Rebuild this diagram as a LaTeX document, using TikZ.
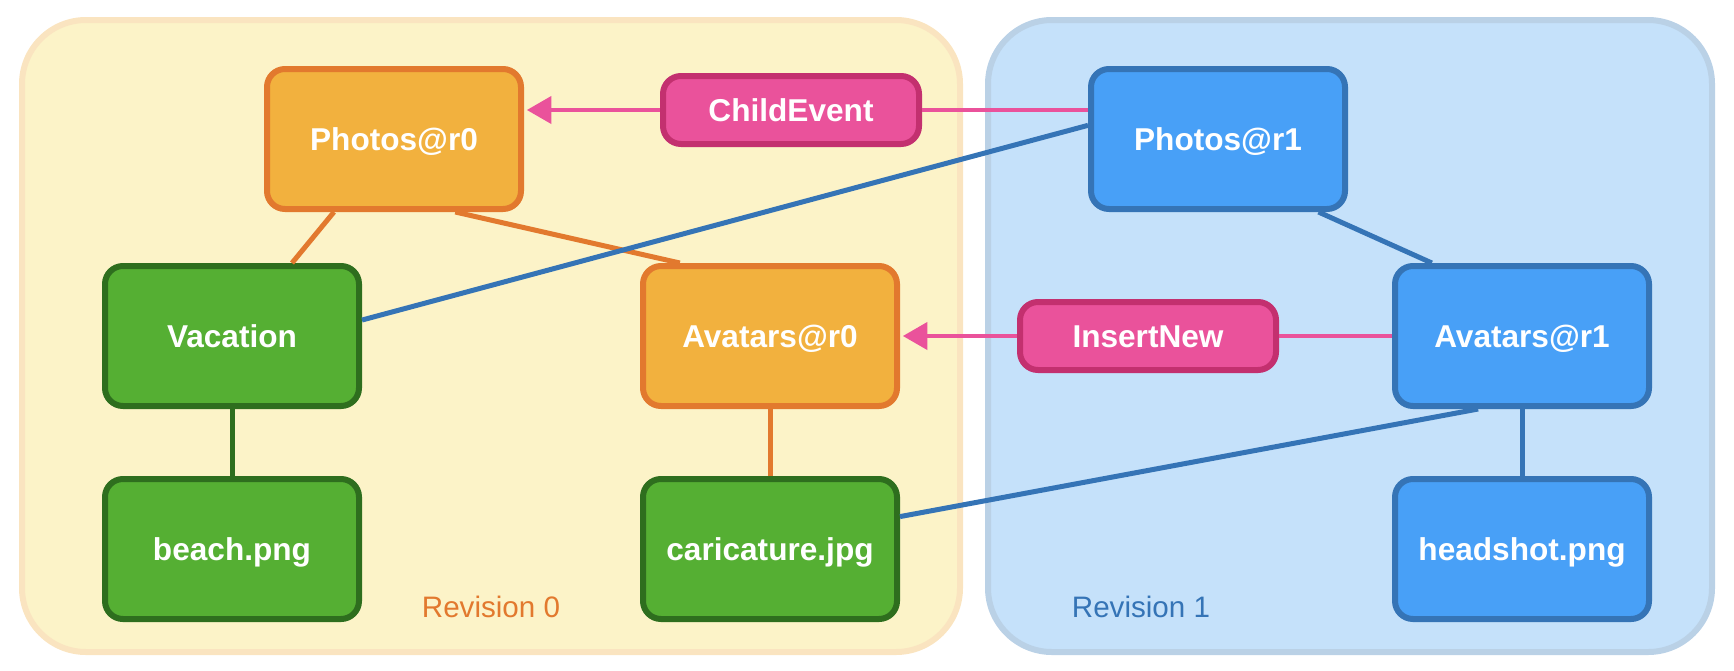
\documentclass[tikz,border=0pt]{standalone}
\usepackage{fontspec}
\setmainfont{Liberation Sans}
\usetikzlibrary{arrows}

\definecolor{revzero}{HTML}{FCF3C8}
\definecolor{revzeroline}{HTML}{FAE4C0}
\definecolor{revone}{HTML}{C5E1FA}
\definecolor{revoneline}{HTML}{BAD1E6}
\definecolor{orangefill}{HTML}{F2B13E}
\definecolor{orangeline}{HTML}{E2792E}
\definecolor{greenfill}{HTML}{55AF33}
\definecolor{greenline}{HTML}{2E6E1E}
\definecolor{bluefill}{HTML}{48A0F7}
\definecolor{blueline}{HTML}{3574B6}
\definecolor{pinkfill}{HTML}{EA529B}
\definecolor{pinkline}{HTML}{C3306F}

\begin{document}
\begin{tikzpicture}[x=0.5pt,y=-0.5pt,>=triangle 60,node distance=106.5pt,
    tree node/.style={rectangle,rounded corners=9pt,line width=3pt,minimum width=127pt,
      minimum height=70pt,text height=11pt,text depth=0pt,text=white,
      font=\fontsize{15.8}{18}\selectfont\bfseries},
    old node/.style={tree node,fill=orangefill,draw=orangeline},
    file node/.style={tree node,fill=greenfill,draw=greenline},
    new node/.style={tree node,fill=bluefill,draw=blueline},
    event node/.style={tree node,fill=pinkfill,draw=pinkline,minimum width=128pt,minimum height=34pt},
    rev box/.style={rounded corners=32pt,line width=3pt},
    rev label/.style={font=\fontsize{14.8}{17}\selectfont}]

  \useasboundingbox (0,0) rectangle (1734,670);

  % the two revisions
  \draw[rev box,fill=revzero,draw=revzeroline] (22,20) rectangle (960,652);
  \draw[rev box,fill=revone,draw=revoneline] (988,20) rectangle (1712,652);
  \node[rev label,text=orangeline] (r0) at (491,607) {Revision 0};
  \node[rev label,text=blueline] (r1) at (1141,607) {Revision 1};

  \node[old node] (p0) at (394,139) {Photos@r0};
  \node[file node] (vac) at (232,336) {Vacation};
  \node[file node] (beach) [below of=vac] {beach.png};
  \node[old node] (a0) at (770,336) {Avatars@r0};
  \node[file node] (car) [below of=a0] {caricature.jpg};

  \node[new node] (p1) at (1218,139) {Photos@r1};
  \node[new node] (a1) at (1522,336) {Avatars@r1};
  \node[new node] (hs) [below of=a1] {headshot.png};

  \node[event node] (ce) at (791,110) {ChildEvent};
  \node[event node] (in) at (1148,336) {InsertNew};

\path[line width=2.5pt]
    (p0) edge[orangeline] (vac)
    (p0.-50) edge[orangeline] (a0.141)
    (a0) edge[orangeline] (car)
    (vac) edge[greenline] (beach)
    (p1.174) edge[blueline] (vac.7)
    (p1.-36) edge[blueline] (a1.141)
    (a1.-121) edge[blueline] (car.14)
    (a1) edge[blueline] (hs)
;
\path[line width=2.4pt,pinkfill]
    (p1.west |- ce.east) edge (ce.east)
    (ce.west) edge[->,shorten >=1.5pt] (p0.east |- ce.west)
    (a1.west |- in.east) edge (in.east)
    (in.west) edge[->,shorten >=1.5pt] (a0.east |- in.west)
;
\end{tikzpicture}
\end{document}
